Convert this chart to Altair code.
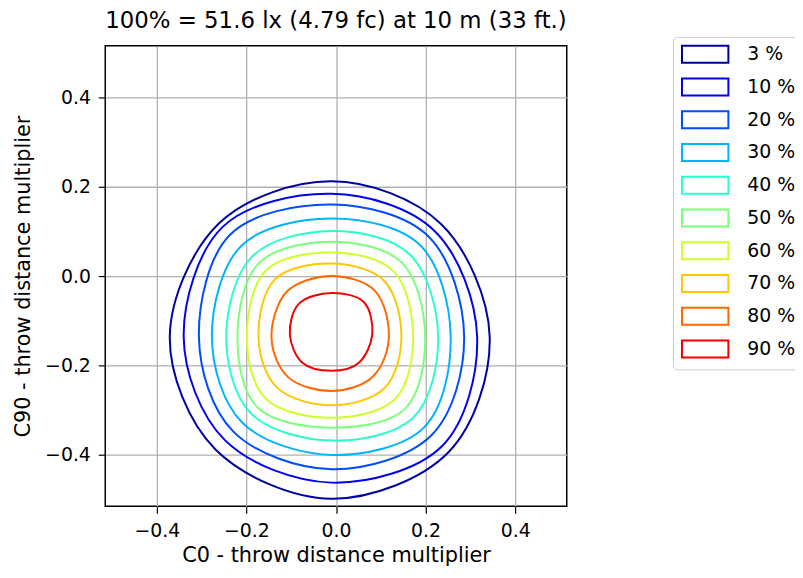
import altair as alt
import pandas as pd

FONT = "DejaVu Sans"

title_text = "100% = 51.6 lx (4.79 fc) at 10 m (33 ft.)"
levels = ["3 %", "10 %", "20 %", "30 %", "40 %", "50 %", "60 %", "70 %", "80 %", "90 %"]
colors = ["#0000a2", "#0000f3", "#004cff", "#00b3ff", "#29ffcd",
          "#7bff7b", "#cdff29", "#ffc700", "#ff6800", "#f30000"]
tick_values = [-0.4, -0.2, 0.0, 0.2, 0.4]

# contour points, order: E, NE, N, NW, W, SW, S, SE
x_3 = [0.343, 0.235, -0.010, -0.261, -0.371, -0.269, -0.010, 0.251]
y_3 = [-0.135, 0.116, 0.212, 0.118, -0.135, -0.388, -0.498, -0.394]
x_10 = [0.315, 0.220, -0.010, -0.253, -0.340, -0.248, -0.010, 0.237]
y_10 = [-0.135, 0.101, 0.184, 0.110, -0.135, -0.367, -0.462, -0.380]
x_20 = [0.286, 0.207, -0.010, -0.236, -0.306, -0.229, -0.010, 0.213]
y_20 = [-0.135, 0.088, 0.160, 0.093, -0.135, -0.348, -0.432, -0.356]
x_30 = [0.256, 0.188, -0.010, -0.211, -0.277, -0.209, -0.010, 0.196]
y_30 = [-0.135, 0.069, 0.129, 0.068, -0.135, -0.328, -0.400, -0.339]
x_40 = [0.228, 0.166, -0.010, -0.187, -0.245, -0.189, -0.010, 0.173]
y_40 = [-0.135, 0.047, 0.101, 0.044, -0.135, -0.308, -0.368, -0.316]
x_50 = [0.199, 0.148, -0.010, -0.172, -0.220, -0.175, -0.010, 0.154]
y_50 = [-0.135, 0.029, 0.077, 0.029, -0.135, -0.294, -0.339, -0.297]
x_60 = [0.172, 0.129, -0.010, -0.156, -0.199, -0.156, -0.010, 0.132]
y_60 = [-0.135, 0.010, 0.053, 0.013, -0.135, -0.275, -0.317, -0.275]
x_70 = [0.146, 0.108, -0.010, -0.136, -0.173, -0.131, -0.010, 0.108]
y_70 = [-0.135, -0.011, 0.028, -0.007, -0.135, -0.250, -0.289, -0.251]
x_80 = [0.118, 0.087, -0.010, -0.109, -0.144, -0.107, -0.010, 0.082]
y_80 = [-0.135, -0.033, 0.000, -0.034, -0.135, -0.226, -0.257, -0.225]
x_90 = [0.081, 0.062, -0.010, -0.082, -0.103, -0.075, -0.010, 0.051]
y_90 = [-0.130, -0.058, -0.038, -0.061, -0.130, -0.194, -0.212, -0.194]

contours = [
    ("3 %", x_3, y_3), ("10 %", x_10, y_10), ("20 %", x_20, y_20),
    ("30 %", x_30, y_30), ("40 %", x_40, y_40), ("50 %", x_50, y_50),
    ("60 %", x_60, y_60), ("70 %", x_70, y_70), ("80 %", x_80, y_80),
    ("90 %", x_90, y_90),
]

rows = []
for lvl, xs, ys in contours:
    for i, (xv, yv) in enumerate(zip(xs, ys)):
        rows.append({"level": lvl, "idx": i, "x": xv, "y": yv})
df = pd.DataFrame(rows)

axis_common = dict(values=tick_values, format=".1f", grid=True, gridColor="#b0b0b0",
                   gridWidth=1.3, domain=False, ticks=True, tickColor="black",
                   tickWidth=1.2, tickSize=7, labelFont=FONT, labelFontSize=19,
                   labelColor="black", titleFont=FONT, titleFontSize=21,
                   titleFontWeight="normal", titleColor="black")

chart = alt.Chart(df).mark_line(interpolate="cardinal-closed", strokeWidth=2).encode(
    x=alt.X("x:Q", scale=alt.Scale(domain=[-0.515, 0.515], nice=False, zero=False),
            axis=alt.Axis(title="C0 - throw distance multiplier", labelPadding=8,
                          titlePadding=5, **axis_common)),
    y=alt.Y("y:Q", scale=alt.Scale(domain=[-0.515, 0.515], nice=False, zero=False),
            axis=alt.Axis(title="C90 - throw distance multiplier", labelPadding=8,
                          titlePadding=11, **axis_common)),
    color=alt.Color("level:N", scale=alt.Scale(domain=levels, range=colors),
                    legend=alt.Legend(title=None, orient="none", legendX=572, legendY=-9,
                                      symbolType="M-2.75,-1H2.75V1H-2.75Z", symbolSize=289,
                                      symbolStrokeWidth=2, symbolFillColor="transparent",
                                      symbolOffset=15, labelOffset=33, labelFont=FONT,
                                      labelFontSize=19, labelColor="black", rowPadding=8,
                                      padding=8, strokeColor="#cccccc", fillColor="white",
                                      cornerRadius=4, labelLimit=0)),
    order=alt.Order("idx:Q"),
    detail="level:N",
).properties(
    width=465, height=464,
    title=alt.TitleParams(title_text, font=FONT, fontSize=23, fontWeight="normal",
                          color="black", anchor="middle", offset=3),
    autosize=alt.AutoSizeParams(type="none"),
    padding={"left": 98, "top": 36, "right": 230, "bottom": 58},
).configure_view(stroke="black", strokeWidth=1.5)

chart.save("out.html", embed_options={"renderer": "svg", "actions": False})
